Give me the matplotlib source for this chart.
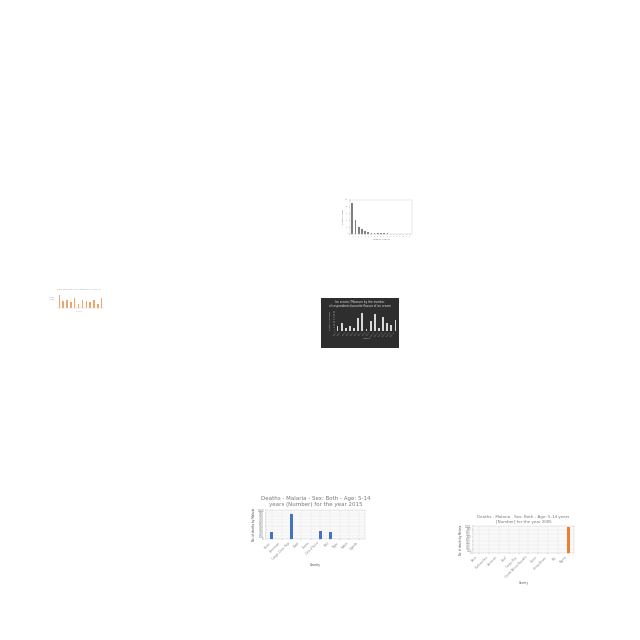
import numpy as np
import matplotlib.pyplot as plt

# chart 1: grey decreasing bars
gray_vals = [90, 42, 20, 14, 8, 5, 3, 3, 2, 2, 2, 1.5, 1, 1, 1, 1, 1, 1, 1]
gray_labels = [str(i + 1) for i in range(len(gray_vals))]

# chart 2: tiny orange bars
orange_small_vals = [9, 5, 6, 4, 7, 3, 6, 5, 4, 6, 3, 7]

# chart 3: dark background chart
dark_vals = [15, 23, 10, 15, 10, 39, 55, 7, 30, 52, 9, 43, 25, 17, 33]
dark_labels = ['Cat %d' % (i + 1) for i in range(len(dark_vals))]

# chart 4: malaria 2015
countries_2015 = ['Benin', 'Cameroon', 'Congo, Dem. Rep.', 'Chad', 'Ghana',
                  "Cote d'Ivoire", 'Mali', 'Niger', 'Sudan', 'Uganda']
deaths_2015 = [245, 0, 870, 0, 0, 290, 245, 0, 0, 0]

# chart 5: malaria 2005
countries_2005 = ['Benin', 'Burkina Faso', 'Cameroon', 'Chad', 'Congo, Rep.',
                  'Central African Republic', 'Ghana', 'Guinea-Bissau', 'Mali', 'Nigeria']
deaths_2005 = [0, 0, 0, 0, 0, 0, 0, 0, 0, 980]

W, H = 640, 640
fig = plt.figure(figsize=(6.4, 6.4), dpi=100)
fig.patch.set_facecolor('white')


def box(x0, y0, x1, y1):
    # pixel box (top-left origin) -> figure fraction
    return [x0 / W, 1 - y1 / H, (x1 - x0) / W, (y1 - y0) / H]


def thin(ax, c='#bbbbbb'):
    for s in ax.spines.values():
        s.set_linewidth(0.3)
        s.set_color(c)
    ax.tick_params(width=0.3, length=1, pad=0.5, colors='#888888')


# ---- chart 1
ax1 = fig.add_axes(box(350, 200, 412, 234))
ax1.bar(range(len(gray_vals)), gray_vals, color='#7f7f7f', width=0.55)
ax1.set_ylim(0, 100)
ax1.set_xlim(-0.7, len(gray_vals) - 0.3)
ax1.set_xticks(range(len(gray_vals)))
ax1.set_xticklabels(gray_labels, fontsize=1.2)
ax1.set_yticks([0, 20, 40, 60, 80, 100])
ax1.tick_params(labelsize=1.2)
ax1.set_ylabel('Number of cases', fontsize=1.3, labelpad=1, color='#666666')
ax1.set_xlabel('Category of values', fontsize=1.3, labelpad=1, color='#666666')
thin(ax1, '#cccccc')

# ---- chart 2
ax2 = fig.add_axes(box(57, 294, 104, 308))
ax2.bar(range(len(orange_small_vals)), orange_small_vals, color='#f0a46a', width=0.35)
ax2.set_xlim(-0.6, len(orange_small_vals) - 0.4)
ax2.set_ylim(0, 10)
ax2.set_xticks([])
ax2.set_yticks([])
for s in ['top', 'right', 'left']:
    ax2.spines[s].set_visible(False)
ax2.spines['bottom'].set_linewidth(0.3)
ax2.spines['bottom'].set_color('#cccccc')
ax2.set_facecolor('none')
fig.text(79 / W, 1 - 289 / H, 'Distribution of values by category over the period',
         fontsize=1.3, color='#999999', ha='center', va='center')
fig.text(52 / W, 1 - 299 / H, 'Values\n(count)', fontsize=1.3, color='#999999',
         ha='center', va='center')
fig.text(80 / W, 1 - 311 / H, 'Category', fontsize=1.2, color='#bbbbbb',
         ha='center', va='center')

# ---- chart 3
bg = fig.add_axes(box(321, 298, 399, 348))
bg.set_facecolor('#2e2e2e')
bg.set_xticks([])
bg.set_yticks([])
for s in bg.spines.values():
    s.set_visible(False)
ax3 = fig.add_axes(box(335, 311, 398, 331))
ax3.set_facecolor('none')
ax3.bar(range(len(dark_vals)), dark_vals, color='#d9d9d9', width=0.45)
ax3.set_xlim(-0.6, len(dark_vals) - 0.4)
ax3.set_ylim(0, 60)
ax3.set_xticks(range(len(dark_vals)))
ax3.set_xticklabels(dark_labels, rotation=45, ha='right', fontsize=1.3, color='#bbbbbb')
ax3.set_yticks(range(0, 61, 5))
ax3.set_yticklabels(['%d' % v for v in range(0, 61, 5)], fontsize=1.0, color='#bbbbbb')
ax3.tick_params(length=0, pad=0.5)
for s in ax3.spines.values():
    s.set_visible(False)
ax3.set_ylabel('Number of responses', fontsize=1.3, color='#cccccc', labelpad=1)
ax3.set_xlabel('Category', fontsize=1.3, color='#cccccc', labelpad=1)
fig.text(360 / W, 1 - 304 / H,
         'Ice cream / Measure by the number\nof respondents favourite flavour of ice cream',
         fontsize=2.0, color='#e6e6e6', ha='center', va='center', linespacing=1.2)

# ---- chart 4
ax4 = fig.add_axes(box(266, 510, 365, 539))
ax4.bar(range(len(deaths_2015)), deaths_2015, color='#4472c4', width=0.3, zorder=3)
ax4.set_ylim(0, 1000)
ax4.set_xlim(-0.6, len(deaths_2015) - 0.4)
ax4.set_yticks(range(0, 1001, 100))
ax4.set_yticks(range(0, 1001, 50), minor=True)
ax4.set_xticks(range(len(countries_2015)))
ax4.set_xticklabels(countries_2015, rotation=45, ha='right', fontsize=2.0, color='#666666')
ax4.tick_params(axis='y', labelsize=2.0, labelcolor='#666666')
ax4.grid(True, which='both', color='#e3e3e3', linewidth=0.3, zorder=0)
ax4.set_ylabel('No. of deaths by Malaria', fontsize=2.0, color='#444444', labelpad=1)
ax4.set_xlabel('Country', fontsize=2.0, color='#444444', labelpad=1)
thin(ax4, '#d0d0d0')
ax4.tick_params(which='minor', length=0)
ax4.set_title('Deaths - Malaria - Sex: Both - Age: 5-14\nyears (Number) for the year 2015',
              fontsize=4.0, color='#777777', pad=3, linespacing=1.3)

# ---- chart 5
ax5 = fig.add_axes(box(473, 526, 574, 553))
ax5.bar(range(len(deaths_2005)), deaths_2005, color='#ed7d31', width=0.3, zorder=3)
ax5.set_ylim(0, 1000)
ax5.set_xlim(-0.6, len(deaths_2005) - 0.4)
ax5.set_yticks(range(0, 1001, 100))
ax5.set_yticks(range(0, 1001, 50), minor=True)
ax5.set_xticks(range(len(countries_2005)))
ax5.set_xticklabels(countries_2005, rotation=45, ha='right', fontsize=1.8, color='#666666')
ax5.tick_params(axis='y', labelsize=1.8, labelcolor='#666666')
ax5.grid(True, which='both', color='#e6e6e6', linewidth=0.3, zorder=0)
ax5.set_ylabel('No. of deaths by Malaria', fontsize=1.8, color='#444444', labelpad=1)
ax5.set_xlabel('Country', fontsize=1.8, color='#444444', labelpad=1)
thin(ax5, '#d0d0d0')
ax5.tick_params(which='minor', length=0)
ax5.set_title('Deaths - Malaria - Sex: Both - Age: 5-14 years\n[Number] for the year 2005',
              fontsize=2.9, color='#777777', pad=2, linespacing=1.3)

fig.savefig('out.png', dpi=100, facecolor='white')
